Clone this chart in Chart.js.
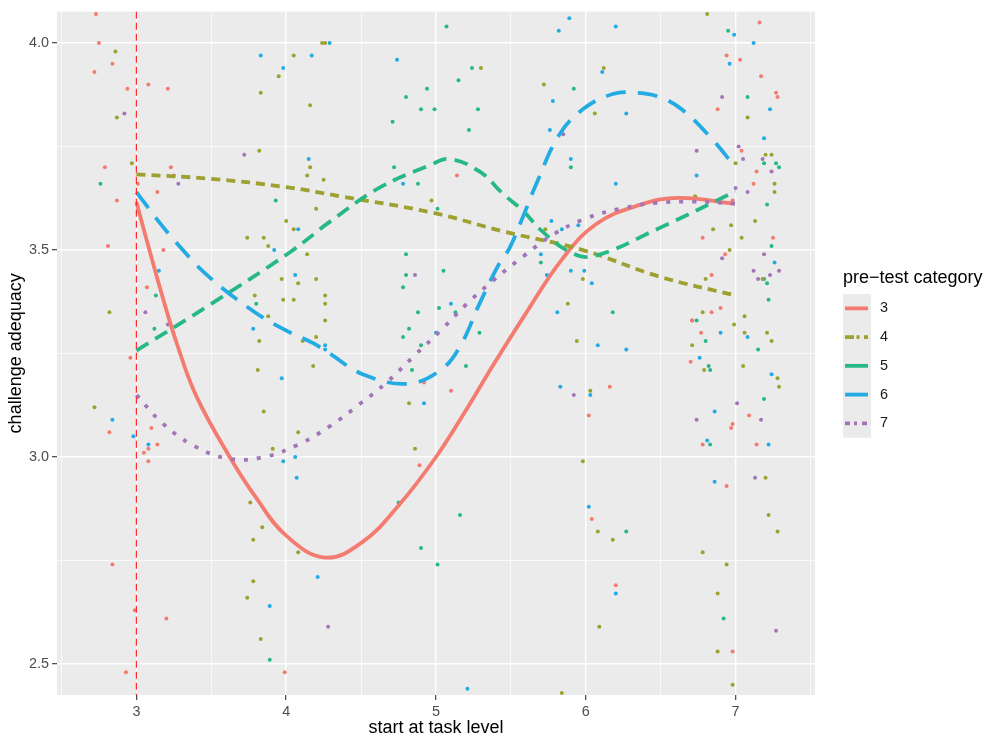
<!DOCTYPE html>
<html>
<head>
<meta charset="utf-8">
<script src="https://cdn.jsdelivr.net/npm/chart.js@4.4.1/dist/chart.umd.min.js"></script>
<style>
  html, body { margin: 0; padding: 0; background: #fff; }
  canvas { display: block; }
</style>
</head>
<body>
<canvas id="chart" width="993" height="738"></canvas>
<script>
// pre-test categories and the jittered observations for each one
const categories = ['3', '4', '5', '6', '7'];

const points3 = [[2.73,4.07],[2.75,4.00],[2.84,3.95],[2.72,3.93],[2.94,3.89],[3.08,3.90],[3.21,3.89],[2.79,3.70],[3.23,3.70],[3.25,3.68],[3.01,3.66],[3.14,3.64],[2.87,3.62],[2.81,3.51],[3.18,3.50],[7.16,4.05],[6.94,3.97],[7.03,3.96],[7.17,3.92],[7.27,3.88],[7.28,3.87],[6.88,3.84],[7.04,3.74],[7.14,3.69],[7.12,3.66],[6.98,3.62],[6.78,3.53],[7.25,3.53],[5.14,3.68],[2.96,3.24],[3.07,3.41],[2.82,3.06],[3.10,3.07],[3.14,3.03],[3.05,3.01],[3.08,3.02],[3.08,2.99],[4.92,3.18],[5.10,3.16],[6.16,3.17],[6.02,3.10],[4.89,2.98],[6.93,3.49],[6.84,3.44],[6.90,3.36],[6.84,3.35],[6.71,3.33],[6.77,3.30],[6.70,3.23],[7.09,3.10],[6.97,3.07],[6.98,3.08],[6.78,3.03],[7.14,3.03],[6.94,2.93],[2.84,2.74],[2.99,2.63],[3.20,2.61],[2.93,2.48],[3.99,2.48],[6.04,2.85],[6.20,2.69],[6.98,2.53]];

const points4 = [[2.86,3.98],[2.87,3.82],[2.97,3.71],[4.05,3.97],[3.95,3.92],[3.83,3.88],[4.16,3.85],[4.24,4.00],[4.26,4.00],[3.82,3.74],[4.16,3.70],[4.14,3.68],[4.25,3.67],[4.20,3.60],[4.00,3.57],[4.05,3.55],[3.74,3.53],[3.85,3.53],[3.88,3.51],[5.30,3.94],[6.12,3.94],[5.72,3.90],[6.06,3.83],[4.97,3.62],[5.73,3.55],[6.81,4.07],[7.08,3.82],[7.20,3.73],[7.24,3.73],[7.00,3.71],[7.26,3.66],[6.73,3.63],[7.26,3.64],[7.13,3.57],[6.85,3.55],[6.97,3.56],[7.04,3.53],[6.96,3.50],[2.82,3.35],[2.72,3.12],[3.79,3.39],[3.97,3.43],[4.08,3.42],[4.14,3.49],[4.20,3.43],[4.26,3.39],[4.26,3.37],[3.98,3.38],[4.05,3.38],[3.88,3.34],[4.26,3.33],[3.82,3.28],[4.20,3.29],[4.11,3.28],[3.81,3.21],[4.18,3.22],[3.85,3.11],[4.08,3.06],[3.91,3.02],[5.94,3.28],[5.98,3.43],[5.88,3.37],[4.82,3.13],[6.03,3.16],[4.86,3.02],[5.98,2.99],[7.18,3.43],[6.80,3.43],[6.78,3.35],[7.06,3.34],[6.99,3.32],[7.06,3.30],[7.21,3.30],[6.71,3.27],[7.24,3.28],[6.79,3.21],[7.05,3.22],[7.28,3.19],[7.29,3.17],[7.20,2.95],[3.76,2.89],[3.84,2.83],[3.78,2.80],[4.08,2.77],[3.78,2.70],[3.74,2.66],[3.83,2.56],[5.84,2.43],[6.08,2.82],[6.18,2.80],[6.09,2.59],[7.22,2.86],[7.28,2.82],[6.78,2.77],[6.94,2.74],[6.88,2.67],[6.88,2.53],[6.98,2.45]];

const points5 = [[2.76,3.66],[3.93,3.62],[5.07,4.04],[5.24,3.94],[5.15,3.91],[4.94,3.89],[4.80,3.87],[4.90,3.84],[4.99,3.84],[5.28,3.84],[4.71,3.81],[5.22,3.79],[5.92,3.89],[4.72,3.70],[4.88,3.66],[5.90,3.70],[5.01,3.60],[6.95,4.03],[7.08,3.87],[7.19,3.71],[7.27,3.71],[7.29,3.70],[7.21,3.61],[7.24,3.51],[3.13,3.39],[3.12,3.31],[3.80,3.37],[4.80,3.49],[5.70,3.47],[4.80,3.44],[4.78,3.41],[5.05,3.45],[6.18,3.35],[4.88,3.35],[5.02,3.36],[5.13,3.35],[4.82,3.31],[4.78,3.29],[4.90,3.27],[5.29,3.30],[4.84,3.21],[5.20,3.22],[7.19,3.43],[7.21,3.42],[7.22,3.38],[6.74,3.33],[6.80,3.28],[7.15,3.26],[6.82,3.22],[6.83,3.21],[7.19,3.14],[6.83,3.03],[3.89,2.51],[4.75,2.89],[5.16,2.86],[4.90,2.78],[5.01,2.74],[6.27,2.82],[6.92,2.61]];

const points6 = [[3.83,3.97],[4.17,3.97],[3.98,3.94],[4.29,4.00],[4.15,3.72],[4.08,3.55],[3.92,3.50],[5.82,4.03],[5.89,4.06],[6.20,4.04],[4.74,3.96],[6.11,3.93],[5.78,3.86],[6.27,3.83],[5.76,3.79],[4.78,3.66],[5.90,3.72],[6.20,3.66],[5.77,3.57],[5.84,3.55],[5.95,3.56],[6.99,4.02],[7.12,4.00],[6.96,3.95],[7.23,3.84],[7.19,3.77],[6.74,3.68],[3.15,3.45],[2.84,3.09],[2.98,3.05],[3.08,3.03],[4.06,3.44],[3.78,3.31],[4.26,3.27],[4.26,3.26],[3.97,3.19],[4.06,3.00],[3.98,2.99],[4.07,2.95],[5.70,3.49],[5.74,3.44],[5.90,3.45],[5.99,3.45],[6.04,3.42],[5.81,3.35],[5.10,3.37],[5.00,3.30],[6.08,3.27],[6.27,3.26],[4.92,3.13],[5.83,3.17],[6.03,3.15],[7.26,3.47],[6.90,3.30],[7.08,3.29],[6.76,3.24],[7.24,3.20],[6.86,3.11],[6.81,3.04],[7.22,3.03],[6.86,2.94],[4.21,2.71],[3.89,2.64],[5.21,2.44],[6.02,2.88],[6.20,2.67]];

const points7 = [[2.92,3.83],[3.28,3.66],[3.72,3.73],[5.85,3.78],[6.91,3.87],[6.74,3.74],[7.02,3.75],[7.18,3.72],[7.05,3.72],[7.24,3.69],[7.00,3.65],[7.08,3.64],[3.06,3.35],[3.21,3.32],[4.86,3.44],[5.92,3.15],[6.91,3.48],[7.19,3.49],[7.12,3.45],[7.29,3.45],[7.23,3.44],[7.15,3.43],[6.71,3.33],[7.01,3.13],[6.74,3.09],[7.17,3.09],[7.13,2.95],[4.28,2.59],[7.27,2.58]];

// smoothed fit per category
const fit3 = [[3.00,3.616],[3.09,3.496],[3.18,3.380],[3.27,3.274],[3.40,3.147],[3.62,3.002],[3.80,2.901],[4.00,2.810],[4.26,2.757],[4.51,2.795],[4.76,2.887],[5.00,3.000],[5.20,3.113],[5.38,3.221],[5.60,3.347],[5.84,3.477],[6.07,3.563],[6.36,3.609],[6.62,3.626],[6.99,3.612]];
const fit4 = [[3.00,3.683],[3.50,3.672],[4.00,3.652],[4.36,3.63],[4.98,3.59],[5.45,3.545],[5.98,3.50],[6.49,3.436],[7.00,3.39]];
const fit5 = [[3.00,3.257],[3.50,3.37],[4.03,3.496],[4.29,3.568],[4.62,3.65],[4.96,3.705],[5.09,3.72],[5.29,3.69],[5.45,3.635],[5.58,3.595],[5.71,3.545],[5.89,3.496],[6.05,3.485],[6.49,3.553],[7.00,3.642]];
const fit6 = [[3.00,3.64],[3.16,3.564],[3.31,3.50],[3.47,3.44],[3.75,3.36],[3.96,3.313],[4.18,3.275],[4.29,3.25],[4.51,3.20],[4.81,3.177],[5.03,3.21],[5.16,3.267],[5.29,3.37],[5.42,3.466],[5.49,3.504],[5.58,3.58],[5.67,3.66],[5.82,3.777],[5.98,3.84],[6.18,3.877],[6.34,3.88],[6.49,3.87],[6.64,3.84],[6.82,3.777],[7.00,3.70]];
const fit7 = [[3.00,3.15],[3.17,3.083],[3.37,3.03],[3.60,2.997],[3.84,2.999],[4.08,3.03],[4.29,3.074],[4.48,3.125],[4.67,3.18],[4.85,3.243],[5.03,3.305],[5.20,3.368],[5.38,3.426],[5.58,3.484],[5.78,3.537],[5.99,3.575],[6.23,3.60],[6.47,3.614],[6.71,3.617],[7.00,3.612]];

// axis breaks
const xBreaks = [3, 4, 5, 6, 7];
const xMinor = [2.5, 3.5, 4.5, 5.5, 6.5, 7.5];
const yBreaks = [2.5, 3.0, 3.5, 4.0];
const yMinor = [2.75, 3.25, 3.75];
const yTickLabels = ['2.5', '3.0', '3.5', '4.0'];
const vlineX = 3;

const allPoints = [points3, points4, points5, points6, points7];
const allFits = [fit3, fit4, fit5, fit6, fit7];

const FONT = '"Liberation Sans", Arial, Helvetica, sans-serif';
const colours = ['#F47B70', '#9EA12F', '#27B887', '#23ABE3', '#A375B8'];
const lineDash = [[], [9, 6], [14, 8], [20, 12], [4, 9]];
const keyDash = [[], [9, 2.5, 3, 4.5, 6], [], [], [5, 4, 3, 5, 5]];

const toXY = arr => arr.map(([x, y]) => ({ x: x, y: y }));

const datasets = [];
allFits.forEach((fit, i) => {
    datasets.push({
        type: 'line',
        label: categories[i],
        data: toXY(fit),
        borderColor: colours[i],
        borderWidth: 3.8,
        borderDash: lineDash[i],
        borderCapStyle: 'butt',
        pointRadius: 0,
        fill: false,
        tension: 0.4,
        order: 5 - i
    });
});
allPoints.forEach((pts, i) => {
    datasets.push({
        type: 'scatter',
        label: categories[i],
        data: toXY(pts),
        backgroundColor: colours[i],
        borderWidth: 0,
        pointRadius: 2,
        order: 10
    });
});

// grey panel, axis titles, dashed reference line and the legend
const ggDecor = {
    id: 'ggDecor',
    beforeDraw(chart) {
        const { ctx, chartArea: a } = chart;
        ctx.save();
        ctx.fillStyle = '#fff';
        ctx.fillRect(0, 0, chart.width, chart.height);
        ctx.fillStyle = '#EBEBEB';
        ctx.fillRect(a.left, a.top, a.right - a.left, a.bottom - a.top);
        ctx.restore();
    },
    afterDatasetsDraw(chart) {
        const { ctx, chartArea: a, scales } = chart;
        const px = scales.x.getPixelForValue(vlineX);
        ctx.save();
        ctx.strokeStyle = '#FF2A2A';
        ctx.lineWidth = 1.2;
        ctx.setLineDash([7, 4]);
        ctx.beginPath();
        ctx.moveTo(px, a.top);
        ctx.lineTo(px, a.bottom);
        ctx.stroke();
        ctx.restore();
    },
    afterDraw(chart) {
        const { ctx, chartArea: a } = chart;
        ctx.save();
        ctx.fillStyle = '#000';
        ctx.font = '18px ' + FONT;
        ctx.textAlign = 'center';
        ctx.textBaseline = 'middle';
        ctx.fillText('start at task level', (a.left + a.right) / 2, 728);
        ctx.save();
        ctx.translate(16.5, (a.top + a.bottom) / 2);
        ctx.rotate(-Math.PI / 2);
        ctx.fillText('challenge adequacy', 0, 0);
        ctx.restore();

        // legend
        const lx = 843, top = 294, rowH = 28.74;
        ctx.textAlign = 'left';
        ctx.textBaseline = 'alphabetic';
        ctx.fillText('pre\u2212test category', lx, 283);
        ctx.fillStyle = '#EBEBEB';
        ctx.fillRect(lx, top, 28, rowH * categories.length);
        categories.forEach((cat, i) => {
            const cy = top + rowH * (i + 0.5);
            ctx.strokeStyle = colours[i];
            ctx.lineWidth = 3.8;
            ctx.lineCap = 'butt';
            ctx.setLineDash(keyDash[i]);
            ctx.beginPath();
            ctx.moveTo(lx + 2, cy);
            ctx.lineTo(lx + 25, cy);
            ctx.stroke();
            ctx.setLineDash([]);
            ctx.fillStyle = '#1a1a1a';
            ctx.font = '14.4px ' + FONT;
            ctx.textBaseline = 'middle';
            ctx.fillText(cat, lx + 37, cy);
        });
        ctx.restore();
    }
};

const isIn = (arr, v) => arr.some(b => Math.abs(b - v) < 1e-9);

new Chart(document.getElementById('chart').getContext('2d'), {
    type: 'scatter',
    data: { datasets: datasets },
    options: {
        responsive: false,
        animation: false,
        events: [],
        layout: { padding: { top: 9, right: 178, left: 0, bottom: 0 } },
        plugins: { legend: { display: false }, tooltip: { enabled: false } },
        scales: {
            x: {
                type: 'linear',
                min: 2.47,
                max: 7.53,
                afterBuildTicks: s => {
                    s.ticks = xMinor.concat(xBreaks).sort((p, q) => p - q).map(v => ({ value: v }));
                },
                afterFit: s => { s.height = 43; },
                border: { display: false },
                grid: {
                    color: '#FFFFFF',
                    lineWidth: c => isIn(xBreaks, c.tick.value) ? 1.4 : 0.7,
                    tickColor: c => isIn(xBreaks, c.tick.value) ? '#333333' : 'rgba(0,0,0,0)',
                    tickLength: 5,
                    tickWidth: 1.1
                },
                ticks: {
                    autoSkip: false,
                    maxRotation: 0,
                    padding: 3,
                    color: '#4D4D4D',
                    font: { family: FONT, size: 14.4 },
                    callback: v => isIn(xBreaks, v) ? String(v) : ''
                }
            },
            y: {
                type: 'linear',
                min: 2.425,
                max: 4.076,
                afterBuildTicks: s => {
                    s.ticks = yMinor.concat(yBreaks).sort((p, q) => p - q).map(v => ({ value: v }));
                },
                afterFit: s => { s.width = 57; },
                border: { display: false },
                grid: {
                    color: '#FFFFFF',
                    lineWidth: c => isIn(yBreaks, c.tick.value) ? 1.4 : 0.7,
                    tickColor: c => isIn(yBreaks, c.tick.value) ? '#333333' : 'rgba(0,0,0,0)',
                    tickLength: 5,
                    tickWidth: 1.1
                },
                ticks: {
                    autoSkip: false,
                    padding: 3,
                    color: '#4D4D4D',
                    font: { family: FONT, size: 14.4 },
                    callback: v => {
                        const k = yBreaks.findIndex(b => Math.abs(b - v) < 1e-9);
                        return k >= 0 ? yTickLabels[k] : '';
                    }
                }
            }
        }
    },
    plugins: [ggDecor]
});
</script>
</body>
</html>
